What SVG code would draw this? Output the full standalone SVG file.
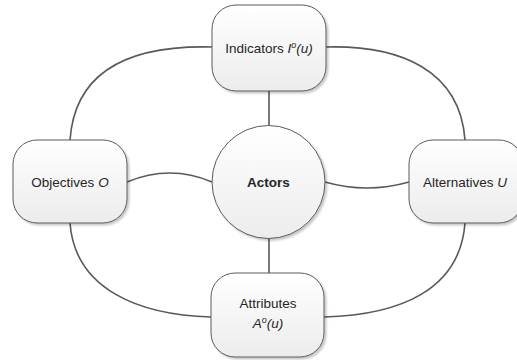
<svg xmlns="http://www.w3.org/2000/svg" width="517" height="360" viewBox="0 0 517 360">
<defs>
<linearGradient id="g" x1="0" y1="0" x2="0" y2="1">
<stop offset="0" stop-color="#ffffff"/>
<stop offset="1" stop-color="#ececec"/>
</linearGradient>
<filter id="sh" x="-10%" y="-10%" width="130%" height="130%">
<feGaussianBlur in="SourceAlpha" stdDeviation="1"/>
<feOffset dx="2" dy="2" result="b"/>
<feComponentTransfer><feFuncA type="linear" slope="0.22"/></feComponentTransfer>
<feMerge><feMergeNode/><feMergeNode in="SourceGraphic"/></feMerge>
</filter>
</defs>
<style>
.n{fill:url(#g);stroke:#5a5a5a;stroke-width:1;filter:url(#sh)}
.c{fill:none;stroke:#595959;stroke-width:1.6}
.t{font-family:"Liberation Sans",Arial,sans-serif;font-size:13.5px;fill:#262626;text-anchor:middle}
.i{font-style:italic}
.b{font-weight:bold;font-size:13.5px}
</style>
<g id="connectors">
<path class="c" d="M269,91 L269,126"/>
<path class="c" d="M269,238 L269,273"/>
<path class="c" d="M127,182 Q170,164 212,182"/>
<path class="c" d="M325,182 Q367,194 409,182"/>
<path class="c" d="M212,47 C130,45 75,70 70,140"/>
<path class="c" d="M326,47 C400,45 460,70 465,140"/>
<path class="c" d="M70,223 C75,290 140,315 211,317"/>
<path class="c" d="M465,223 C460,290 400,315 324,317"/>
</g>
<g id="indicators">
<rect class="n" x="212" y="5" width="114" height="86" rx="24" ry="24"/>
<text class="t" x="269" y="53">Indicators <tspan class="i">I</tspan><tspan class="i" font-size="9" dy="-5">o</tspan><tspan class="i" dy="5">(u)</tspan></text>
</g>
<g id="objectives">
<rect class="n" x="13" y="140" width="114" height="83" rx="24" ry="24"/>
<text class="t" x="70" y="187">Objectives <tspan class="i">O</tspan></text>
</g>
<g id="alternatives">
<rect class="n" x="409" y="140" width="114" height="83" rx="24" ry="24"/>
<text class="t" x="465" y="187">Alternatives <tspan class="i">U</tspan></text>
</g>
<g id="attributes">
<rect class="n" x="211" y="273" width="113" height="84" rx="24" ry="24"/>
<text class="t" x="268" y="308">Attributes</text>
<text class="t" x="268" y="328"><tspan class="i">A</tspan><tspan class="i" font-size="9" dy="-5">o</tspan><tspan class="i" dy="5">(u)</tspan></text>
</g>
<g id="actors">
<circle class="n" cx="268.5" cy="182" r="56.5"/>
<text class="t b" x="268.5" y="187">Actors</text>
</g>
</svg>
